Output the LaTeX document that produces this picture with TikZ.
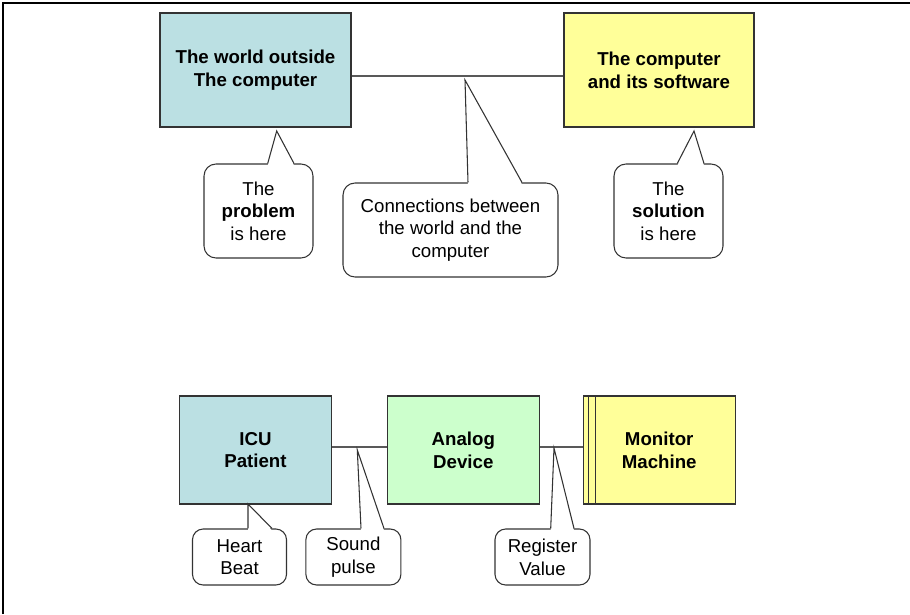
\documentclass[tikz,border=0pt]{standalone}
\usepackage{fontspec}
\setmainfont{Liberation Sans}
\usetikzlibrary{calc}
\definecolor{teal1}{RGB}{187,224,227}
\definecolor{yell1}{RGB}{255,255,153}
\definecolor{green1}{RGB}{204,255,204}
\tikzset{
  box/.style={draw=black!80,line width=0.9pt,inner sep=0pt,align=center,
    font=\fontsize{14}{17}\selectfont\bfseries},
  callout/.style={draw=black!80,line width=0.8pt,fill=white,rounded corners=9pt,
    inner sep=0pt,align=center,font=\fontsize{14}{17}\selectfont},
  pointer/.style={draw=black!80,line width=0.8pt},
  link/.style={draw=black!65,line width=0.8pt}
}
\begin{document}
\begin{tikzpicture}[x=0.75pt,y=-0.75pt]
\useasboundingbox (0,0) rectangle (910,614);
% frame
\draw[line width=1.5pt] (3,614) -- (3,2.5) -- (910,2.5);

% upper part
\node[box,fill=teal1,minimum width=143.25pt,minimum height=85.5pt] (world) at (255.5,70) {The world outside\\The computer};
\node[box,fill=yell1,minimum width=142.5pt,minimum height=85.5pt] (comp) at (659,70) {The computer\\and its software};
\draw[link] ([yshift=-4.5pt]world.east) -- ([yshift=-4.5pt]comp.west);

\node[callout,minimum width=81.75pt,minimum height=70.5pt] (prob) at (258.5,211) {The\\\textbf{problem}\\is here};
\node[callout,minimum width=161.25pt,minimum height=70.5pt] (conn) at (450.5,230) {Connections between\\the world and the\\computer};
\node[callout,minimum width=81.75pt,minimum height=70.5pt] (sol) at (668.5,211) {The\\\textbf{solution}\\is here};

% lower part
\node[box,fill=teal1,minimum width=114pt,minimum height=81pt] (icu) at (255.5,450) {ICU\\Patient};
\node[box,fill=green1,minimum width=114pt,minimum height=81pt] (analog) at (463.3,450) {Analog\\Device};
\node[box,fill=yell1,minimum width=114pt,minimum height=81pt] (monitor) at (659.2,450) {Monitor\\Machine};
\draw[box] ([xshift=4.5pt]monitor.north west) -- ([xshift=4.5pt]monitor.south west);
\draw[box] ([xshift=9.5pt]monitor.north west) -- ([xshift=9.5pt]monitor.south west);
\draw[link] ([yshift=2.25pt]icu.east) -- ([yshift=2.25pt]analog.west);
\draw[link] ([yshift=2.25pt]analog.east) -- ([yshift=2.25pt]monitor.west);

\node[callout,rounded corners=8pt,minimum width=70.5pt,minimum height=42pt] (heart) at (239.5,557) {Heart\\Beat};
\node[callout,rounded corners=8pt,minimum width=71.25pt,minimum height=42pt] (sound) at (353.4,557) {Sound\\pulse};
\node[callout,rounded corners=8pt,minimum width=71.25pt,minimum height=42pt] (reg) at (542.5,557) {Register\\Value};

% pointers of the callouts
\foreach \c/\tip/\bl/\br in {prob/{276.7,131}/267.7/294, conn/{465,80}/468/522,
    sol/{694,131}/677.3/704, heart/{248,504}/248/272,
    sound/{357.3,450}/361/384, reg/{554,448}/550.7/574}{
  \fill[white] ($(\bl,0 |- \c.north)+(0,2)$) -- (\tip) -- ($(\br,0 |- \c.north)+(0,2)$) -- cycle;
  \draw[pointer] (\bl,0 |- \c.north) -- (\tip) -- (\br,0 |- \c.north);
}
\end{tikzpicture}
\end{document}
